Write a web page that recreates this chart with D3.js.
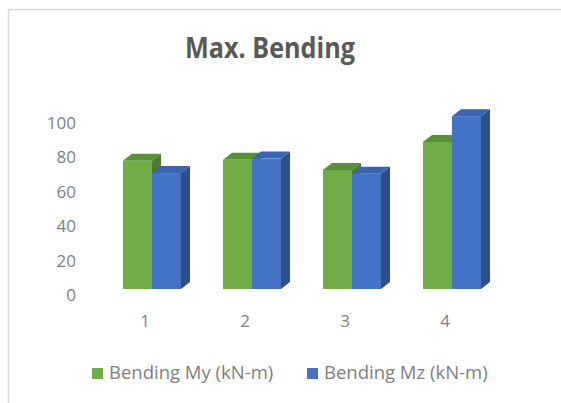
<!DOCTYPE html>
<html>
<head>
<meta charset="utf-8">
<script src="https://cdn.jsdelivr.net/npm/d3@7"></script>
<style>
  body { margin: 0; background: #fff; }
  svg { display: block; font-family: "Open Sans", sans-serif; }
</style>
</head>
<body>
<div id="chart"></div>
<script>
// values
var categories = ["1", "2", "3", "4"];
var seriesNames = ["Bending My (kN-m)", "Bending Mz (kN-m)"];
var bendingMy = [74.5, 75.2, 69.2, 85.5];
var bendingMz = [67.4, 75.8, 67.0, 100.5];
var yTicks = [0, 20, 40, 60, 80, 100];

var W = 561, H = 403;
var colors = {
  front: ["#70ad47", "#4472c4"],
  top:   ["#5b8f38", "#3a64ae"],
  side:  ["#4b7a2c", "#2d4f8a"]
};
var depth = { dx: 9, dy: -7 };   // oblique depth of each bar
var setback = { dx: 7, dy: -6 }; // bars sit back from the floor front edge

var svg = d3.select("#chart").append("svg")
    .attr("width", W)
    .attr("height", H);

// chart area border (only top and left show in the crop)
svg.append("path")
    .attr("d", "M8.5," + H + "V9.5H" + W)
    .attr("fill", "none")
    .attr("stroke", "#d9d9d9")
    .attr("stroke-width", 1.5);

// title
svg.append("text")
    .attr("x", 270)
    .attr("y", 58)
    .attr("text-anchor", "middle")
    .attr("font-size", 29)
    .attr("font-weight", "bold")
    .attr("fill", "#595959")
    .attr("textLength", 170)
    .attr("lengthAdjust", "spacingAndGlyphs")
    .text("Max. Bending");

var x = d3.scaleBand()
    .domain(categories)
    .range([95, 495])
    .paddingInner(0);

var xs = d3.scaleBand()
    .domain(seriesNames)
    .range([-29, 29]);

var y = d3.scaleLinear()
    .domain([0, 100])
    .range([295, 123]);

// y axis (labels only)
svg.append("g")
    .attr("transform", "translate(76,0)")
    .call(d3.axisLeft(y).tickValues(yTicks).tickSize(0).tickPadding(0))
    .call(function (g) { g.select(".domain").remove(); })
    .selectAll("text")
    .attr("font-size", 17)
    .attr("font-family", "Open Sans, sans-serif")
    .attr("fill", "#7f7f7f");

// x axis (labels only)
svg.append("g")
    .attr("transform", "translate(0,315)")
    .call(d3.axisBottom(x).tickSize(0).tickPadding(0))
    .call(function (g) { g.select(".domain").remove(); })
    .selectAll("text")
    .attr("font-size", 17)
    .attr("font-family", "Open Sans, sans-serif")
    .attr("fill", "#7f7f7f");

var data = [];
categories.forEach(function (c, i) {
  data.push({ cat: c, s: 0, name: seriesNames[0], v: bendingMy[i] });
  data.push({ cat: c, s: 1, name: seriesNames[1], v: bendingMz[i] });
});

var bars = svg.append("g").attr("class", "bars");

data.forEach(function (d) {
  var x0 = x(d.cat) + x.bandwidth() / 2 + setback.dx + xs(d.name);
  var x1 = x0 + xs.bandwidth();
  var yb = y(0) + setback.dy;
  var yt = y(d.v) + setback.dy;
  var g = bars.append("g");
  // side face
  g.append("path")
      .attr("d", "M" + x1 + "," + yt + "L" + (x1 + depth.dx) + "," + (yt + depth.dy) +
            "L" + (x1 + depth.dx) + "," + (yb + depth.dy) + "L" + x1 + "," + yb + "Z")
      .attr("fill", colors.side[d.s]);
  // top face
  g.append("path")
      .attr("d", "M" + x0 + "," + yt + "L" + x1 + "," + yt +
            "L" + (x1 + depth.dx) + "," + (yt + depth.dy) + "L" + (x0 + depth.dx) + "," + (yt + depth.dy) + "Z")
      .attr("fill", colors.top[d.s]);
  // front face
  g.append("rect")
      .attr("x", x0)
      .attr("y", yt)
      .attr("width", xs.bandwidth())
      .attr("height", yb - yt)
      .attr("fill", colors.front[d.s]);
});

// legend
var legendX = [92, 307];
var legend = svg.append("g").attr("class", "legend");
seriesNames.forEach(function (name, i) {
  legend.append("rect")
      .attr("x", legendX[i])
      .attr("y", 368)
      .attr("width", 11)
      .attr("height", 11)
      .attr("fill", colors.front[i]);
  legend.append("text")
      .attr("x", legendX[i] + 17)
      .attr("y", 379)
      .attr("font-size", 18.5)
      .attr("fill", "#7f7f7f")
      .text(name);
});
</script>
</body>
</html>
